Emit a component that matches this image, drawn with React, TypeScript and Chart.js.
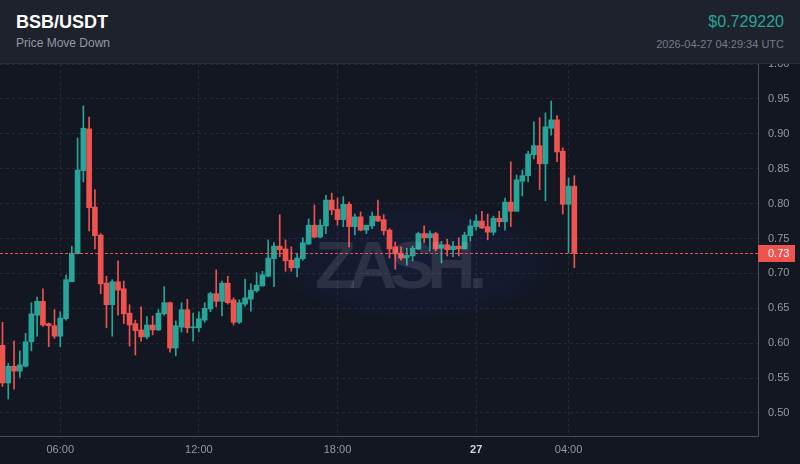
import React, { useEffect, useRef } from 'react';
import { Chart, registerables } from 'chart.js';

Chart.register(...registerables);

// 15-minute candles, starting 2026-04-26 03:30 UTC (hours since 04-26 00:00)
const START_HOUR = 3.5;
const STEP_HOURS = 0.25;

const OPEN = [
  0.597, 0.543, 0.567, 0.560, 0.567, 0.602, 0.640, 0.660, 0.628, 0.625,
  0.610, 0.635, 0.688, 0.728, 0.847, 0.907, 0.795, 0.755, 0.686, 0.655,
  0.688, 0.678, 0.643, 0.628, 0.619, 0.609, 0.626, 0.619, 0.642, 0.658,
  0.593, 0.623, 0.648, 0.622, 0.622, 0.633, 0.649, 0.671, 0.660, 0.686,
  0.662, 0.630, 0.656, 0.663, 0.675, 0.682, 0.696, 0.721, 0.739, 0.735,
  0.719, 0.708, 0.721, 0.742, 0.769, 0.752, 0.768, 0.805, 0.792, 0.777,
  0.799, 0.767, 0.781, 0.762, 0.768, 0.782, 0.777, 0.762, 0.738, 0.729,
  0.722, 0.725, 0.735, 0.757, 0.751, 0.757, 0.736, 0.741, 0.734, 0.739,
  0.735, 0.754, 0.767, 0.775, 0.767, 0.759, 0.779, 0.774, 0.802, 0.789,
  0.832, 0.840, 0.870, 0.883, 0.857, 0.908, 0.920, 0.875, 0.799, 0.825,
];
const HIGH = [
  0.630, 0.571, 0.603, 0.589, 0.614, 0.658, 0.666, 0.678, 0.629, 0.648,
  0.645, 0.698, 0.739, 0.894, 0.940, 0.924, 0.820, 0.757, 0.696, 0.691,
  0.718, 0.689, 0.655, 0.633, 0.652, 0.638, 0.639, 0.648, 0.681, 0.659,
  0.632, 0.658, 0.663, 0.643, 0.645, 0.658, 0.673, 0.705, 0.689, 0.696,
  0.665, 0.662, 0.692, 0.685, 0.701, 0.703, 0.748, 0.744, 0.784, 0.748,
  0.738, 0.729, 0.751, 0.778, 0.798, 0.777, 0.812, 0.815, 0.808, 0.810,
  0.802, 0.785, 0.788, 0.769, 0.788, 0.805, 0.784, 0.764, 0.745, 0.738,
  0.736, 0.739, 0.759, 0.768, 0.761, 0.759, 0.746, 0.749, 0.746, 0.751,
  0.759, 0.777, 0.784, 0.789, 0.785, 0.782, 0.789, 0.808, 0.860, 0.841,
  0.848, 0.875, 0.917, 0.923, 0.930, 0.947, 0.926, 0.880, 0.837, 0.840,
];
const LOW = [
  0.538, 0.520, 0.534, 0.551, 0.566, 0.589, 0.610, 0.624, 0.595, 0.607,
  0.595, 0.633, 0.688, 0.728, 0.831, 0.761, 0.735, 0.671, 0.622, 0.610,
  0.640, 0.628, 0.596, 0.583, 0.603, 0.606, 0.612, 0.618, 0.640, 0.587,
  0.582, 0.616, 0.615, 0.603, 0.616, 0.630, 0.645, 0.652, 0.639, 0.656,
  0.626, 0.628, 0.653, 0.646, 0.673, 0.682, 0.695, 0.681, 0.724, 0.703,
  0.703, 0.695, 0.719, 0.741, 0.751, 0.751, 0.757, 0.784, 0.769, 0.767,
  0.738, 0.755, 0.761, 0.757, 0.764, 0.774, 0.755, 0.722, 0.706, 0.719,
  0.712, 0.718, 0.734, 0.744, 0.732, 0.732, 0.715, 0.725, 0.724, 0.725,
  0.735, 0.746, 0.762, 0.764, 0.748, 0.755, 0.767, 0.762, 0.767, 0.789,
  0.811, 0.831, 0.864, 0.820, 0.804, 0.898, 0.860, 0.785, 0.729, 0.708,
];
const CLOSE = [
  0.543, 0.567, 0.560, 0.569, 0.602, 0.642, 0.660, 0.626, 0.625, 0.610,
  0.636, 0.691, 0.729, 0.848, 0.908, 0.794, 0.754, 0.685, 0.655, 0.688,
  0.676, 0.642, 0.626, 0.618, 0.609, 0.626, 0.619, 0.643, 0.658, 0.593,
  0.625, 0.648, 0.622, 0.623, 0.635, 0.650, 0.671, 0.660, 0.686, 0.658,
  0.630, 0.658, 0.665, 0.676, 0.683, 0.698, 0.722, 0.739, 0.734, 0.718,
  0.708, 0.722, 0.744, 0.769, 0.752, 0.769, 0.805, 0.791, 0.777, 0.799,
  0.767, 0.781, 0.762, 0.769, 0.782, 0.775, 0.761, 0.735, 0.728, 0.722,
  0.726, 0.736, 0.757, 0.751, 0.757, 0.735, 0.741, 0.734, 0.739, 0.735,
  0.755, 0.768, 0.775, 0.765, 0.759, 0.779, 0.774, 0.802, 0.789, 0.834,
  0.840, 0.871, 0.883, 0.857, 0.910, 0.920, 0.874, 0.799, 0.825, 0.72922,
];

const X_TICKS = [6, 12, 18, 24, 28];
const X_TICK_LABELS = ['06:00', '12:00', '18:00', '27', '04:00'];
const BOLD_TICK = '27';

const LAST_PRICE = 0.72922;
const TITLE = 'BSB/USDT';
const SUBTITLE = 'Price Move Down';
const PRICE_TEXT = '$0.729220';
const TIMESTAMP = '2026-04-27 04:29:34 UTC';
const WATERMARK = 'ZASH.';

const UP = '#26a69a';
const DOWN = '#ef5350';
const FONT = "'Liberation Sans', Arial, sans-serif";

function isBoldTick(ctx: any): boolean {
  if (!ctx || !ctx.tick) return false;
  const i = X_TICKS.indexOf(ctx.tick.value);
  return X_TICK_LABELS[i] === BOLD_TICK;
}

export default function App() {
  const canvasRef = useRef<HTMLCanvasElement | null>(null);

  useEffect(() => {
    document.body.style.margin = '0';
    document.body.style.background = '#131722';
    const canvas = canvasRef.current;
    if (!canvas) return;

    const xs = OPEN.map((_, i) => START_HOUR + i * STEP_HOURS);
    const colors = OPEN.map((o, i) => (CLOSE[i] >= o ? UP : DOWN));

    const watermarkPlugin = {
      id: 'watermark',
      beforeDatasetsDraw(chart: any) {
        const ctx = chart.ctx;
        const cx = chart.width / 2 + 14;
        const cy = chart.height / 2 - 4;
        ctx.save();
        ctx.translate(cx, cy);
        ctx.scale(1, 0.42);
        const g = ctx.createRadialGradient(0, 0, 0, 0, 0, 150);
        g.addColorStop(0, 'rgba(40,60,170,0.14)');
        g.addColorStop(0.75, 'rgba(40,60,170,0.08)');
        g.addColorStop(1, 'rgba(40,60,170,0)');
        ctx.fillStyle = g;
        ctx.fillRect(-150, -150, 300, 300);
        ctx.restore();
      },
      afterDatasetsDraw(chart: any) {
        const ctx = chart.ctx;
        ctx.save();
        ctx.font = `bold 67px ${FONT}`;
        const w = ctx.measureText(WATERMARK).width;
        const target = 172;
        const ls = (target - w) / (WATERMARK.length - 1);
        (ctx as any).letterSpacing = `${ls}px`;
        ctx.fillStyle = 'rgba(255,255,255,0.10)';
        ctx.textAlign = 'left';
        ctx.textBaseline = 'alphabetic';
        const x0 = chart.width / 2 - target / 2 + 1;
        ctx.fillText(WATERMARK, x0, chart.height / 2 + 24);
        ctx.restore();
      },
    };

    const priceLinePlugin = {
      id: 'priceLine',
      afterDraw(chart: any) {
        const ctx = chart.ctx;
        const y = Math.round(chart.scales.y.getPixelForValue(LAST_PRICE));
        const { left, right } = chart.chartArea;
        ctx.save();
        ctx.fillStyle = DOWN;
        for (let x = left; x < right; x += 5) {
          ctx.fillRect(x, y, Math.min(3, right - x), 1);
        }
        ctx.fillRect(right, y - 8, 37, 17);
        ctx.fillStyle = '#ffffff';
        ctx.font = `11px ${FONT}`;
        ctx.textAlign = 'left';
        ctx.textBaseline = 'middle';
        ctx.fillText(LAST_PRICE.toFixed(2), right + 10, y + 1);
        ctx.restore();
      },
    };

    let chart: any = null;
    try {
      chart = new Chart(canvas, {
        type: 'bar',
        data: {
          datasets: [
            {
              label: 'wick',
              data: xs.map((x, i) => ({ x, y: [LOW[i], HIGH[i]] })) as any,
              backgroundColor: colors,
              borderWidth: 0,
              barThickness: 1,
              grouped: false,
              order: 2,
            },
            {
              label: 'body',
              data: xs.map((x, i) => ({ x, y: [OPEN[i], CLOSE[i]] })) as any,
              backgroundColor: colors,
              borderWidth: 0,
              barThickness: 5,
              minBarLength: 1,
              grouped: false,
              order: 1,
            },
          ],
        },
        options: {
          animation: false,
          responsive: false,
          maintainAspectRatio: false,
          layout: { padding: 0 },
          plugins: {
            legend: { display: false },
            tooltip: { enabled: false },
          },
          scales: {
            x: {
              type: 'linear',
              offset: false,
              min: 3.392,
              max: 36.2,
              afterBuildTicks: (scale: any) => {
                scale.ticks = X_TICKS.map((v) => ({ value: v }));
              },
              afterFit: (scale: any) => {
                scale.height = 28;
                scale.paddingLeft = 0;
                scale.paddingRight = 0;
              },
              grid: { color: '#262a36', drawTicks: false, offset: false },
              border: { display: true, color: '#4a4e5a', dash: [3, 3] },
              ticks: {
                padding: 7,
                maxRotation: 0,
                autoSkip: false,
                color: (ctx: any) => (isBoldTick(ctx) ? '#d1d4dc' : '#9598a1'),
                font: (ctx: any) =>
                  isBoldTick(ctx)
                    ? { family: FONT, size: 11, weight: 'bold' }
                    : { family: FONT, size: 11 },
                callback: (v: any) => {
                  const i = X_TICKS.indexOf(Number(v));
                  return i >= 0 ? X_TICK_LABELS[i] : '';
                },
              },
            },
            y: {
              position: 'right',
              min: 0.467,
              max: 1.0,
              afterFit: (scale: any) => {
                scale.width = 42;
                scale.paddingTop = 0;
                scale.paddingBottom = 0;
              },
              grid: { color: '#262a36', drawTicks: false },
              border: { display: true, color: '#4a4e5a', dash: [3, 3] },
              ticks: {
                stepSize: 0.05,
                includeBounds: false,
                padding: 10,
                color: '#9598a1',
                font: { family: FONT, size: 11 },
                callback: (v: any) => Number(v).toFixed(2),
              },
            },
          },
        } as any,
        plugins: [watermarkPlugin, priceLinePlugin],
      });
    } catch (e) {
      console.error(e);
    }

    return () => {
      if (chart) chart.destroy();
    };
  }, []);

  return (
    <div style={{ width: 800, height: 464, background: '#131722', fontFamily: FONT, position: 'relative', overflow: 'hidden' }}>
      <div
        style={{
          position: 'absolute',
          left: 0,
          top: 0,
          width: 800,
          height: 63,
          background: '#1e222d',
          borderBottom: '1px solid #2a2e39',
        }}
      >
        <div style={{ position: 'absolute', left: 16, top: 13, fontSize: 18, lineHeight: '18px', fontWeight: 'bold', color: '#ffffff' }}>
          {TITLE}
        </div>
        <div style={{ position: 'absolute', left: 16, top: 37, fontSize: 12, lineHeight: '12px', color: '#9598a1' }}>
          {SUBTITLE}
        </div>
        <div style={{ position: 'absolute', right: 16, top: 14, fontSize: 16, lineHeight: '16px', color: UP }}>
          {PRICE_TEXT}
        </div>
        <div style={{ position: 'absolute', right: 16, top: 39, fontSize: 11, lineHeight: '11px', color: '#787b86' }}>
          {TIMESTAMP}
        </div>
      </div>
      <canvas ref={canvasRef} width={800} height={400} style={{ position: 'absolute', left: 0, top: 64, width: 800, height: 400 }} />
    </div>
  );
}
